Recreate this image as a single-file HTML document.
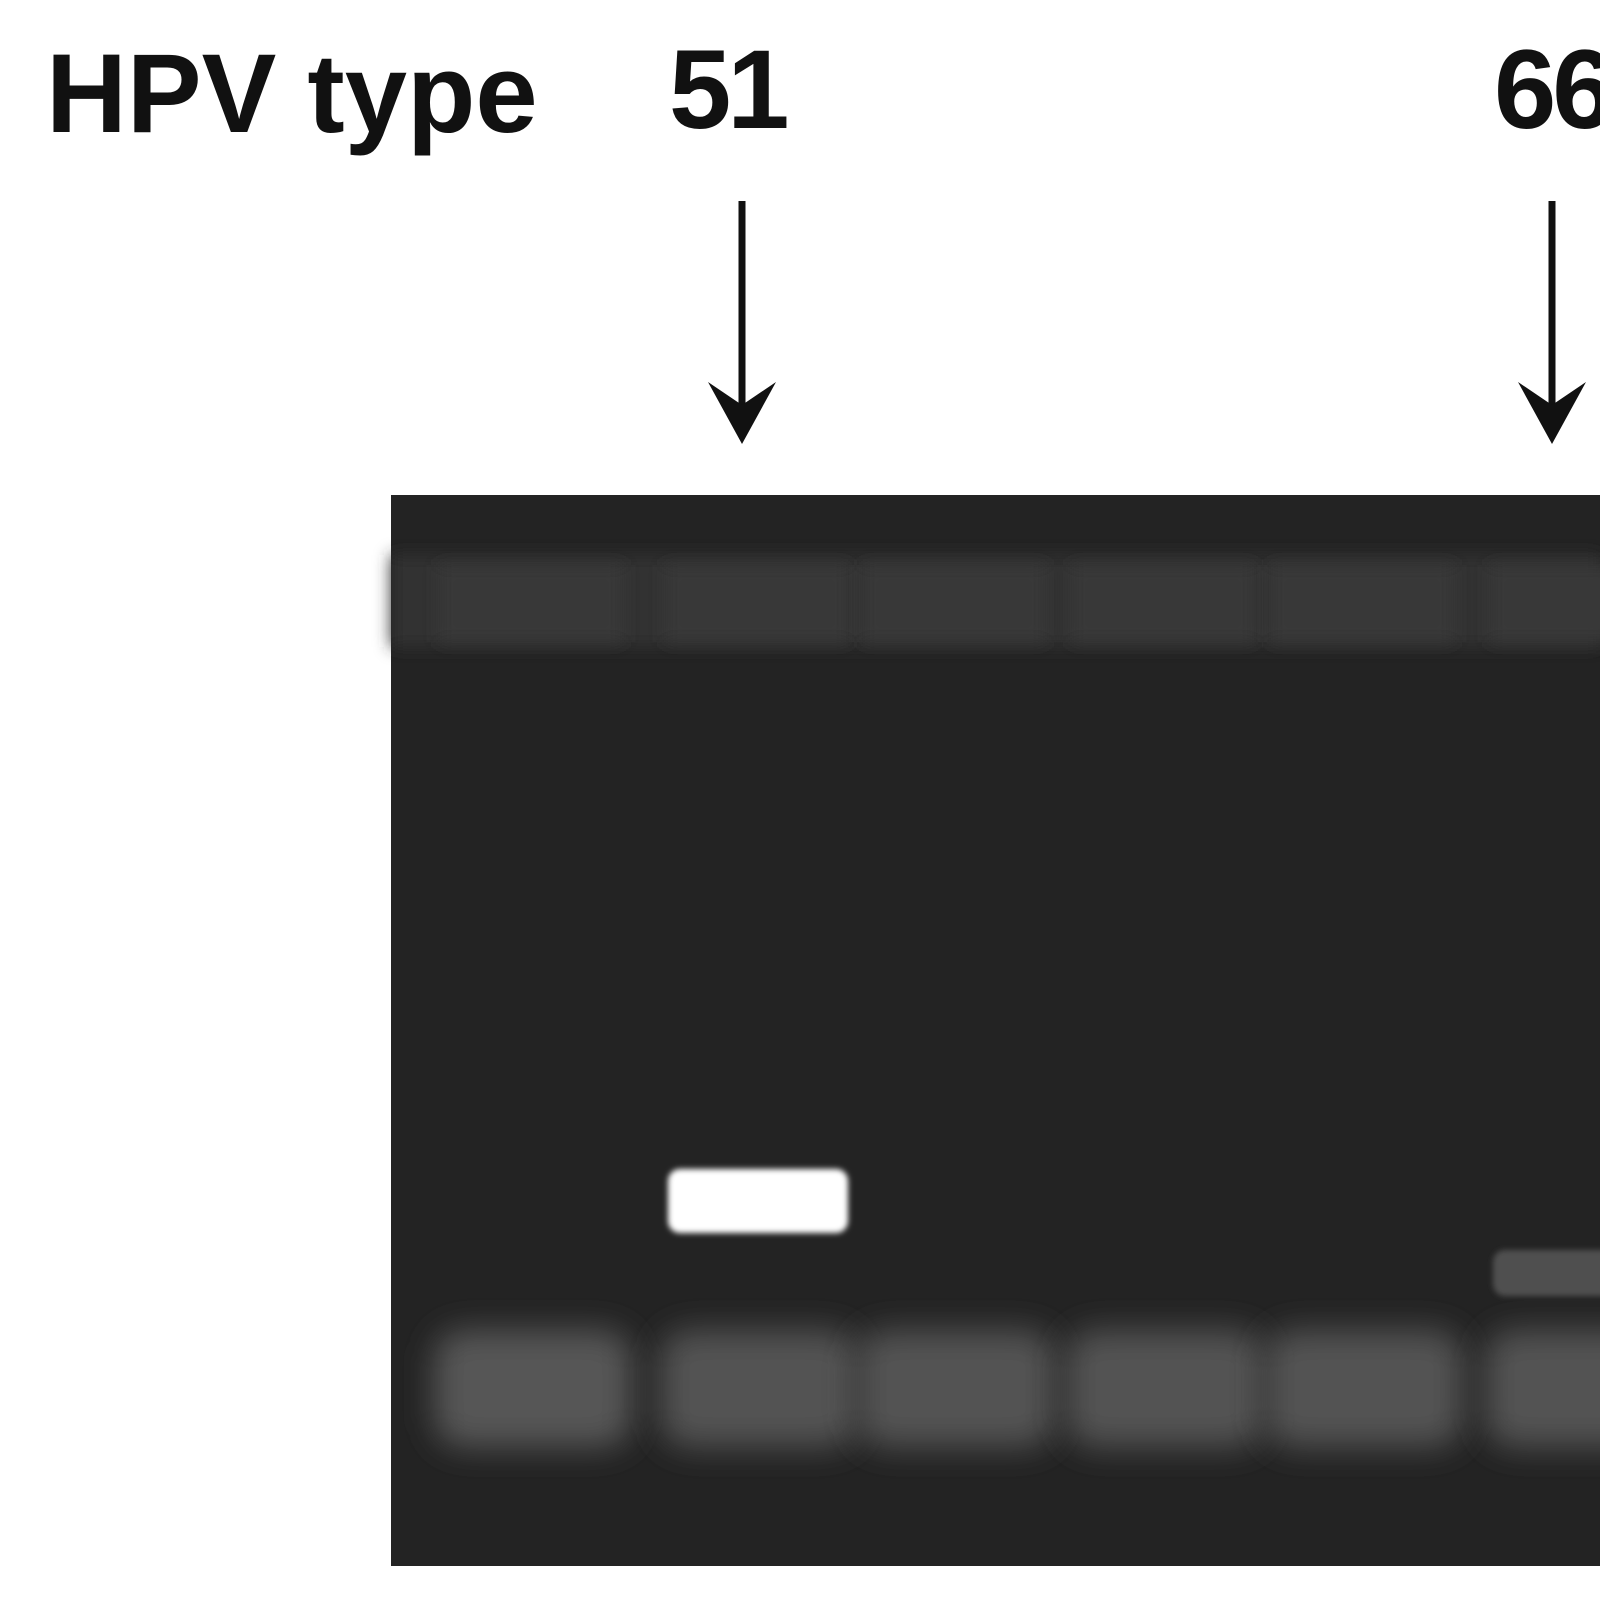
<!DOCTYPE html>
<html><head><meta charset="utf-8">
<style>
html,body{margin:0;padding:0;background:#fff;width:1600px;height:1600px;overflow:hidden}
svg{display:block}
</style></head>
<body>
<svg id="fig" width="1600" height="1600" viewBox="0 0 1600 1600">
<defs>
<filter id="blur8" x="-30%" y="-30%" width="160%" height="160%"><feGaussianBlur stdDeviation="8"/></filter>
<filter id="blur20" x="-30%" y="-50%" width="160%" height="200%"><feGaussianBlur stdDeviation="16"/></filter>
<filter id="blur3"><feGaussianBlur stdDeviation="3"/></filter>
</defs>
<text x="46" y="132" font-family="Liberation Sans, sans-serif" font-weight="bold" font-size="112" fill="#111">HPV type</text>
<g id="labels"></g>
<rect x="391" y="495" width="1209" height="1071" fill="#232323"/>
<rect x="391" y="555" width="1209" height="92" fill="#323232" filter="url(#blur8)"/>
<g id="lanes"></g>
</svg>
<script>
// Lane data
const laneCenters = [531, 757, 954, 1163, 1362, 1582];
const laneTypes = ["", "51", "", "", "", "66"];
const bandY = [0, 1201, 0, 0, 0, 1273];
const bandIntensity = [0, 1.0, 0, 0, 0, 0.2];
const primerGlow = [0.65, 0.6, 0.6, 0.6, 0.6, 0.6];

const NS = "http://www.w3.org/2000/svg";
const lanesG = document.getElementById('lanes');
const labelsG = document.getElementById('labels');
function mk(tag, attrs, parent){const e=document.createElementNS(NS,tag);for(const k in attrs)e.setAttribute(k,attrs[k]);parent.appendChild(e);return e;}

laneCenters.forEach((cx,i)=>{
  const w = mk('rect',{x:cx-92,y:565,width:184,height:77,fill:'#383838',filter:'url(#blur8)'},lanesG);
  
  
  const g = Math.round(40+primerGlow[i]*70);
  const p = mk('rect',{x:cx-97,y:1330,width:198,height:117,rx:30,fill:`rgb(${g},${g},${g})`,filter:'url(#blur20)'},lanesG);
  
  
  if(bandIntensity[i]>0){
    const v = Math.round(35+bandIntensity[i]*220);
    const h = bandIntensity[i]>0.8?64:46;
    const b = mk('rect',{x:cx-89,y:bandY[i]-h/2,width:180,height:h,rx:12,fill:`rgb(${v},${v},${v})`,filter:'url(#blur3)'},lanesG);
    
    
  }
  if(laneTypes[i]){
    const t = mk('text',{x:cx-88,y:128,'font-family':'Liberation Sans, sans-serif','font-weight':'bold','font-size':'112',fill:'#111','letter-spacing':'-4'},labelsG);
    t.textContent = laneTypes[i];
    
    
    const a = mk('g',{},labelsG);
    
    
    const ax = cx-30+(i===1?15:0);
    mk('line',{x1:ax,y1:201,x2:ax,y2:425,stroke:'#111','stroke-width':7},a);
    mk('polygon',{points:`${ax-34},382 ${ax},444 ${ax+34},382 ${ax},405`,fill:'#111'},a);
  }
});
</script>
</body></html>
